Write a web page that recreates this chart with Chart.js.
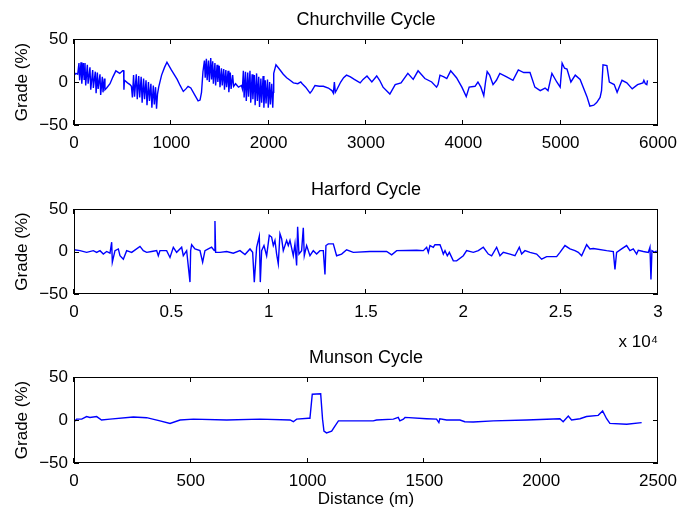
<!DOCTYPE html>
<html>
<head>
<meta charset="utf-8">
<title>Cycle grade profiles</title>
<script src="https://cdn.jsdelivr.net/npm/chart.js@4.4.0/dist/chart.umd.min.js"></script>
<style>
  body { margin: 0; background: #fff; }
  #wrap { position: relative; width: 680px; height: 511px; overflow: hidden; background: #fff; }
  canvas { position: absolute; left: 0; }
</style>
</head>
<body>
<div id="wrap">
  <canvas id="churchville" width="680" height="160" style="top:0px"></canvas>
  <canvas id="harford" width="680" height="185" style="top:170px"></canvas>
  <canvas id="munson" width="680" height="173" style="top:338px"></canvas>
</div>
<script>
// Churchville cycle: distance (m) / grade (%)
const churchDist = [0, 20, 38, 51, 58, 72, 80, 96, 104, 113, 120, 137, 145, 164, 172, 192, 199, 219, 227, 240, 248, 267, 274, 291, 298, 312, 318, 335, 370, 400, 430, 470, 500, 510, 513, 518, 550, 575, 590,
  600, 612, 622, 640, 650, 665, 675, 690, 700, 715, 725, 740, 750, 765, 775, 790, 800, 815, 825, 838, 848, 858, 870, 900, 930, 955, 1000, 1060, 1090, 1123, 1150, 1172, 1200, 1240, 1275, 1295, 1310,
  1325, 1340, 1348, 1360, 1368, 1382, 1390, 1405, 1413, 1425, 1432, 1448, 1455, 1470, 1478, 1492, 1500, 1515, 1523, 1538, 1546, 1560, 1568, 1583, 1591, 1606, 1614, 1630, 1640, 1660, 1690, 1720,
  1730, 1740, 1748, 1762, 1770, 1785, 1793, 1808, 1816, 1830, 1838, 1853, 1861, 1876, 1884, 1898, 1906, 1920, 1928, 1943, 1951, 1965, 1973, 1988, 1996, 2010, 2018, 2032, 2042, 2048, 2052,
  2075, 2117, 2150, 2185, 2220, 2254, 2300, 2330, 2345, 2380, 2425, 2445, 2476, 2520, 2562, 2613, 2650, 2665, 2675, 2685, 2700, 2740, 2770, 2800, 2840, 2880, 2940, 2970, 3010, 3060, 3110, 3140,
  3175, 3245, 3300, 3360, 3430, 3485, 3535, 3605, 3675, 3725, 3740, 3760, 3800, 3830, 3870, 3930, 3985, 4030, 4060, 4120, 4150, 4180, 4210, 4228, 4245, 4270, 4305, 4340, 4375, 4445, 4510, 4565,
  4620, 4685, 4735, 4790, 4840, 4870, 4910, 4960, 4995, 5015, 5040, 5065, 5105, 5150, 5200, 5270, 5300, 5340, 5370, 5405, 5420, 5435, 5475, 5500, 5550, 5580, 5630, 5680, 5735, 5790, 5845, 5855,
  5870, 5885, 5892];
const churchGrade = [8, 10, 9, 22, 2, 23, -2, 22, 3, 22, -4, 20, -2, 17, -9, 14, -7, 12, -13, 11, -8, 9, -15, 6, -12, 4, -9, -7, -2, 6, 13, 10, 13, 13, -9, 2, -1, -3, -5,
  -18, 8, -17, 9, -20, 7, -18, 6, -24, 4, -20, 2, -27, 0, -22, -2, -30, -4, -26, -6, -31, -14, -6, 8, 17, 23, 14, 3, -4, -11, -8, -5, -7, -15, -22, -21, -12,
  12, 25, 5, 27, 2, 25, 0, 28, 3, 24, -2, 22, -4, 20, 0, 19, -6, 16, -4, 15, -9, 14, -6, 13, -12, 11, -8, 8, -5, -2, -6, -4,
  -8, 13, -18, 12, -22, 11, -17, 13, -24, 9, -20, 8, -27, 10, -22, 6, -29, 4, -24, 7, -30, 2, -25, 3, -30, 0, -26, -2, -30, -12, 10,
  20, 14, 9, 5, 2, -1, -2, 0, -2, -6, -13, -10, -4, -5, -5, -7, -10, -13, 0, -12, -9, 0, 5, 8, 6, 3, -1, 3, 7, 0, 7, 2,
  -6, -14, -3, -1, 10, 3, 13, 4, 0, -6, -3, 8, 6, 4, 13, 5, -6, -17, -6, -5, 0, -6, -16, 0, 12, 8, -3, 2, 10, 6, 2, 14,
  11, 11, -6, -10, -7, -10, 10, 0, -6, 22, 16, 15, 0, 8, 3, -17, -28, -27, -24, -18, -10, 20, 19, 0, -3, -12, 2, -1, -8, -3, -1, 2,
  -2, -3, 2];

// Harford cycle
const harfordDist = [0, 308, 650, 993, 1164, 1335, 1507, 1678, 1849, 1935, 1969, 2106, 2277, 2363, 2534, 2705, 2962, 3390, 3561, 3732, 3989, 4246, 4331, 4417, 4759, 4931, 5102, 5273, 5530, 5615,
  5787, 5958, 5992, 6043, 6214, 6471, 6608, 6728, 6899, 7070, 7207, 7241, 7276, 7498, 7841, 8183, 8526, 8783, 9040, 9177, 9262, 9382, 9519, 9570, 9639, 9759, 9896, 10032, 10152, 10238, 10323,
  10409, 10494, 10580, 10666, 10751, 10922, 11008, 11094, 11265, 11351, 11436, 11488, 11556, 11693, 11779, 11830, 11950, 12121, 12292, 12464, 12635, 12806, 12892, 12943, 13063, 13320, 13490,
  13747, 14004, 14347, 15203, 16062, 16318, 16575, 17602, 17945, 18116, 18202, 18287, 18458, 18544, 18801, 18886, 18972, 19058, 19177, 19280, 19486, 19657, 19999, 20170, 20513, 20770, 21026,
  21283, 21454, 21711, 21882, 22054, 22396, 22653, 22875, 22995, 23166, 23423, 23766, 24022, 24279, 24793, 24964, 25221, 25478, 25734, 25906, 26077, 26334, 26505, 26676, 27361, 27703, 27789,
  27874, 28131, 28388, 28559, 28730, 28902, 28987, 29244, 29501, 29587, 29638, 29689, 29843, 29929];
const harfordGrade = [2, 1, -1, 1, -1, 1, -3, 0, -2, 11, -12.5, 1, 3, -5, -9, 1, -1, 6, 1, -1, 0, 1, -5, 1, 1, -7, 5, -1, 5, -5,
  1, -36, 1, 8, 3, 1, -12.5, 1, 3, 5, 1, 36, -1, -1, 0, -2, 1, -3.5, 3, -1, -36, 5, 18, -36, 1, 7, -5, 19, 17, 7, 13,
  -3, -14.5, 21, 15, 1, 13, 7, 13, -5, 9, -16.5, 29, -3, 1, 28, -5, 7, -5, 1, -3, 1, 1, -27, 7, 9, 9, -5,
  -3, 2, -1, 0, 0, -4, 1, 1.5, 1, 5, -1, 7, 5, 8, 8, 3, -3, 1, -5, -1, -11, -11, -5, 1, -1, 1, 5,
  -3, -5, 5, -5, -1, -3, -5, 5, -3, 1, -1, -3, -9, -6, -6, -1, 7, 3, 1, -1, -5, 8, 3, 3.5, 1, 0, -21,
  -1, 3, 7, 1, 3, -3, 1.5, 0, -1, 5, -33, 1, -1, 1];

// Munson cycle
const munsonDist = [0, 11, 33, 54, 68, 97, 118, 154, 254, 311, 368, 411, 454, 511, 654, 796, 925, 939, 953, 1003, 1010, 1020, 1056, 1064, 1070, 1081, 1103, 1117, 1132, 1224, 1281, 1295,
  1367, 1388, 1395, 1410, 1417, 1509, 1552, 1562, 1566, 1595, 1652, 1673, 1709, 1795, 1938, 2080, 2094, 2116, 2130, 2166, 2194, 2244, 2263, 2280, 2294, 2366, 2430];
const munsonGrade = [-2.3, 1, 1, 4, 3, 4, 0, 1, 3.5, 2.7, -1, -4, 0, 1, 0, 1, 0, -2, 1, 2, 2, 30, 30.5, 1, -13, -15, -13, -7, -1, -1, -1, 0,
  1, 3, -1, 1, 3, 1.5, 1, -3, 1.5, 0, 0, -2, -2.3, -1, 0, 1.5, -2, 4.7, 0, 1.5, 4, 5.4, 10.5, 1.5, -4, -5, -3];

// axis ticks
const gradeTicks = [-50, 0, 50];
const churchTicks = [0, 1000, 2000, 3000, 4000, 5000, 6000];
const harfordTicks = [0, 5000, 10000, 15000, 20000, 25000, 30000];
const munsonTicks = [0, 500, 1000, 1500, 2000, 2500];

Chart.defaults.font.family = '"Liberation Sans", Arial, Helvetica, sans-serif';
Chart.defaults.color = '#000';

// MATLAB style box with inward ticks on all four sides
const matlabBox = {
  id: 'matlabBox',
  afterDatasetsDraw(chart) {
    const { ctx, chartArea: a, scales } = chart;
    ctx.save();
    ctx.strokeStyle = '#000';
    ctx.lineWidth = 1;
    ctx.beginPath();
    scales.x.ticks.forEach(t => {
      const px = Math.round(scales.x.getPixelForValue(t.value)) - 0.5;
      ctx.moveTo(px, a.bottom); ctx.lineTo(px, a.bottom - 5);
      ctx.moveTo(px, a.top); ctx.lineTo(px, a.top + 5);
    });
    scales.y.ticks.forEach(t => {
      const py = Math.round(scales.y.getPixelForValue(t.value)) + 0.5;
      ctx.moveTo(a.left, py); ctx.lineTo(a.left + 5, py);
      ctx.moveTo(a.right, py); ctx.lineTo(a.right - 5, py);
    });
    ctx.stroke();
    ctx.strokeRect(a.left + 0.5, a.top + 0.5, a.width - 1, a.height - 1);
    ctx.restore();
  }
};

function gradeChart(id, title, dist, grade, xTicks, xMax, axisHeight, xFormat, xTitle) {
  return new Chart(document.getElementById(id), {
    type: 'line',
    data: {
      datasets: [{
        data: dist.map((d, i) => ({ x: d, y: grade[i] })),
        borderColor: '#0000ff',
        borderWidth: 1.4,
        pointRadius: 0,
        tension: 0,
        fill: false
      }]
    },
    options: {
      responsive: false,
      animation: false,
      devicePixelRatio: 1,
      layout: { padding: { left: 0, right: 22, top: 0, bottom: 0 } },
      plugins: {
        legend: { display: false },
        tooltip: { enabled: false },
        title: {
          display: true,
          text: title,
          fullSize: false,
          color: '#000',
          font: { size: 18, weight: 'normal' },
          padding: { top: 9, bottom: 8.4 }
        }
      },
      scales: {
        x: {
          type: 'linear',
          min: 0,
          max: xMax,
          afterBuildTicks: s => { s.ticks = xTicks.map(v => ({ value: v })); },
          afterFit: s => { s.height = axisHeight; s.paddingLeft = 0; s.paddingRight = 0; },
          grid: { display: false, drawTicks: false },
          border: { display: false },
          ticks: {
            autoSkip: false,
            maxRotation: 0,
            padding: 8,
            font: { size: 17 },
            callback: xFormat
          },
          title: xTitle
        },
        y: {
          min: -50,
          max: 50,
          afterBuildTicks: s => { s.ticks = gradeTicks.map(v => ({ value: v })); },
          afterFit: s => { s.width = 74; s.paddingTop = 0; s.paddingBottom = 0; },
          grid: { display: false, drawTicks: false },
          border: { display: false },
          ticks: {
            padding: 6,
            font: { size: 17 },
            callback: v => v < 0 ? '\u2212' + Math.abs(v) : String(v)
          },
          title: {
            display: true,
            text: 'Grade (%)',
            font: { size: 17 },
            padding: { top: 12, bottom: 0 }
          }
        }
      }
    },
    plugins: [matlabBox]
  });
}

const plain = v => String(v);

gradeChart('churchville', 'Churchville Cycle', churchDist, churchGrade, churchTicks, 6000, 35, plain,
  { display: false });

gradeChart('harford', 'Harford Cycle', harfordDist, harfordGrade, harfordTicks, 30000, 61, v => String(v / 10000),
  { display: true, text: 'x 10\u2074', align: 'end', font: { size: 17 }, padding: { top: 0, bottom: 2 } });

gradeChart('munson', 'Munson Cycle', munsonDist, munsonGrade, munsonTicks, 2500, 48, plain,
  { display: true, text: 'Distance (m)', font: { size: 17 }, padding: { top: 0, bottom: 1 } });
</script>
</body>
</html>
